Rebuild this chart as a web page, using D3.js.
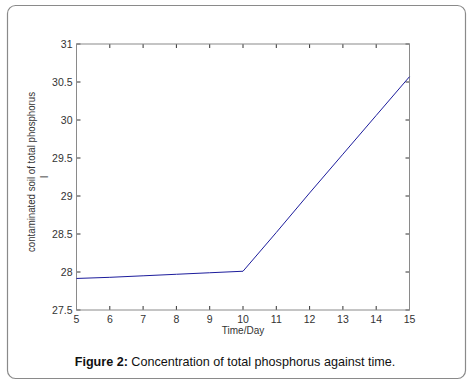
<!DOCTYPE html>
<html><head><meta charset="utf-8">
<script src="https://cdn.jsdelivr.net/npm/d3@7/dist/d3.min.js"></script>
<style>body{margin:0;background:#fff}svg{display:block}</style>
</head><body>
<svg id="c" width="476" height="385"></svg>
<script>
const days = [5, 6, 7, 8, 9, 10, 11, 12, 13, 14, 15];
const phosphorus = [27.915, 27.93, 27.95, 27.97, 27.99, 28.01, 28.52, 29.04, 29.55, 30.06, 30.57];
const xTicks = [5, 6, 7, 8, 9, 10, 11, 12, 13, 14, 15];
const yTicks = [27.5, 28, 28.5, 29, 29.5, 30, 30.5, 31];
const yTickLabels = ["27.5", "28", "28.5", "29", "29.5", "30", "30.5", "31"];

const svg = d3.select("#c");
svg.append("rect").attr("x", 7.5).attr("y", 5.5).attr("width", 458).attr("height", 373)
  .attr("rx", 8).attr("fill", "#fff").attr("stroke", "#8a8a8a").attr("stroke-width", 1.2);

const L = 76.5, R = 409.5, T = 44, B = 310;
const x = d3.scaleLinear().domain([5, 15]).range([L, R]);
const y = d3.scaleLinear().domain([27.5, 31]).range([B, T]);
const font = "Arial, 'Liberation Sans', sans-serif";

// ticks (inward, all four sides)
const tk = svg.append("g").attr("stroke", "#333").attr("stroke-width", 1);
xTicks.forEach(v => {
  tk.append("line").attr("x1", x(v)).attr("x2", x(v)).attr("y1", B).attr("y2", B - 4);
  tk.append("line").attr("x1", x(v)).attr("x2", x(v)).attr("y1", T).attr("y2", T + 4);
});
yTicks.forEach(v => {
  tk.append("line").attr("x1", L).attr("x2", L + 4).attr("y1", y(v)).attr("y2", y(v));
  tk.append("line").attr("x1", R).attr("x2", R - 4).attr("y1", y(v)).attr("y2", y(v));
});

// box
svg.append("rect").attr("x", L).attr("y", T).attr("width", R - L).attr("height", B - T)
  .attr("fill", "none").attr("stroke", "#8a8a8a").attr("stroke-width", 1);

// tick labels
svg.append("g").selectAll("text").data(xTicks).join("text")
  .attr("x", d => x(d)).attr("y", B + 13).attr("text-anchor", "middle")
  .attr("font-family", font).attr("font-size", 10.5).attr("fill", "#333").text(d => d);
svg.append("g").selectAll("text").data(yTicks).join("text")
  .attr("x", L - 4).attr("y", (d, i) => y(d) + 3.5).attr("text-anchor", "end")
  .attr("font-family", font).attr("font-size", 10.5).attr("fill", "#333")
  .text((d, i) => yTickLabels[i]);

// line
svg.append("path").datum(days.map((d, i) => [d, phosphorus[i]]))
  .attr("d", d3.line().x(d => x(d[0])).y(d => y(d[1])))
  .attr("fill", "none").attr("stroke", "#1c1c9c").attr("stroke-width", 1);

// axis labels
svg.append("text").attr("x", (L + R) / 2).attr("y", 334).attr("text-anchor", "middle")
  .attr("font-family", font).attr("font-size", 10).attr("fill", "#333").text("Time/Day");
svg.append("text").attr("transform", "translate(35,172) rotate(-90)").attr("text-anchor", "middle")
  .attr("font-family", font).attr("font-size", 10).attr("fill", "#333")
  .attr("textLength", 160).attr("lengthAdjust", "spacingAndGlyphs")
  .text("contaminated soil of total phosphorus");
svg.append("text").attr("transform", "translate(48,177) rotate(-90)").attr("text-anchor", "middle")
  .attr("font-family", font).attr("font-size", 10).attr("fill", "#333").text("l");

// caption
const cap = svg.append("text").attr("x", 235).attr("y", 366).attr("text-anchor", "middle")
  .attr("font-family", font).attr("font-size", 12.6).attr("fill", "#111");
cap.append("tspan").attr("font-weight", "bold").text("Figure 2:");
cap.append("tspan").text(" Concentration of total phosphorus against time.");
</script>
</body></html>
